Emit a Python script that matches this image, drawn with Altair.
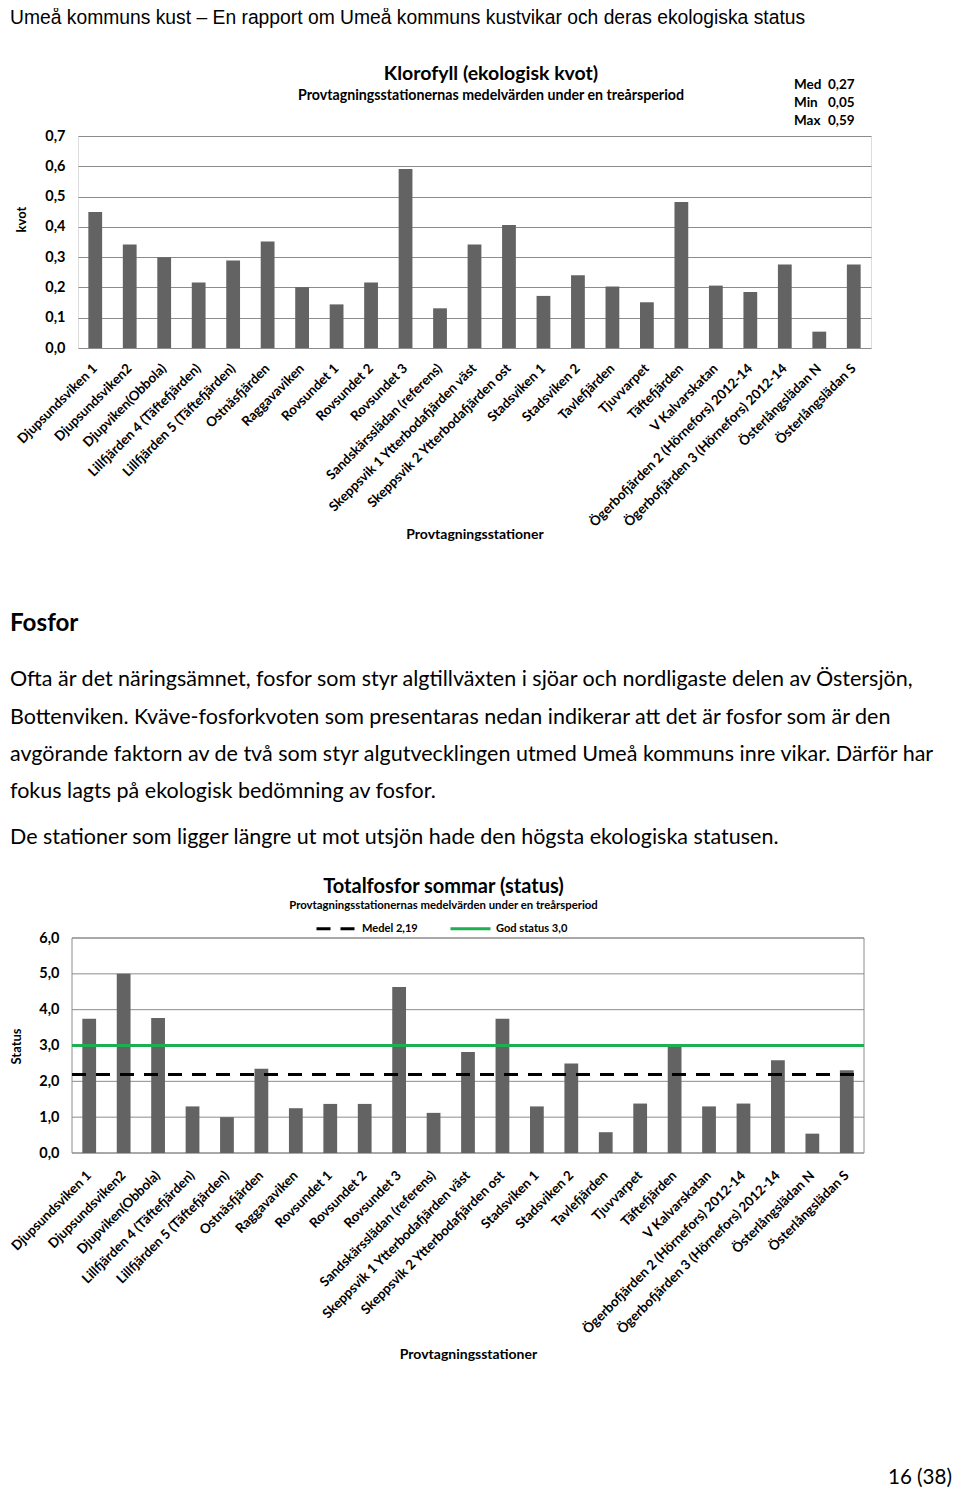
import altair as alt
import pandas as pd

# ---------------- data ----------------
stations = [
    "Djupsundsviken 1", "Djupsundsviken2", "Djupviken(Obbola)",
    "Lillfjärden 4 (Täftefjärden)", "Lillfjärden 5 (Täftefjärden)",
    "Ostnäsfjärden", "Raggavaviken", "Rovsundet 1", "Rovsundet 2",
    "Rovsundet 3", "Sandskärsslädan (referens)",
    "Skeppsvik 1 Ytterbodafjärden väst", "Skeppsvik 2 Ytterbodafjärden ost",
    "Stadsviken 1", "Stadsviken 2", "Tavlefjärden", "Tjuvvarpet",
    "Täftefjärden", "V Kalvarskatan",
    "Ögerbofjärden 2 (Hörnefors) 2012-14", "Ögerbofjärden 3 (Hörnefors) 2012-14",
    "Österlångslädan N", "Österlångslädan S",
]
klorofyll = [0.449, 0.342, 0.300, 0.216, 0.289, 0.352, 0.201, 0.144, 0.216,
             0.591, 0.131, 0.342, 0.406, 0.172, 0.240, 0.203, 0.151, 0.482,
             0.206, 0.185, 0.276, 0.054, 0.276]
fosfor = [3.75, 5.00, 3.77, 1.30, 1.00, 2.35, 1.25, 1.37, 1.37, 4.63, 1.12,
          2.82, 3.75, 1.30, 2.50, 0.58, 1.38, 3.00, 1.30, 1.38, 2.59, 0.54, 2.31]

kvot_ticks = [0.0, 0.1, 0.2, 0.3, 0.4, 0.5, 0.6, 0.7]
status_ticks = [0.0, 1.0, 2.0, 3.0, 4.0, 5.0, 6.0]

stat_names = ["Med", "Min", "Max"]
stat_values = ["0,27", "0,05", "0,59"]

ref_labels = ["Medel 2,19", "God status 3,0"]
ref_values = [2.19, 3.0]

header_text = "Umeå kommuns kust – En rapport om Umeå kommuns kustvikar och deras ekologiska status"
chart1_title = "Klorofyll (ekologisk kvot)"
chart2_title = "Totalfosfor sommar (status)"
subtitle_text = "Provtagningsstationernas medelvärden under en treårsperiod"
x_title = "Provtagningsstationer"
heading_text = "Fosfor"
paragraph_lines = [
    "Ofta är det näringsämnet, fosfor som styr algtillväxten i sjöar och nordligaste delen av Östersjön,",
    "Bottenviken. Kväve-fosforkvoten som presentaras nedan indikerar att det är fosfor som är den",
    "avgörande faktorn av de två som styr algutvecklingen utmed Umeå kommuns inre vikar. Därför har",
    "fokus lagts på ekologisk bedömning av fosfor.",
    "De stationer som ligger längre ut mot utsjön hade den högsta ekologiska statusen.",
]
page_number = "16 (38)"

# ---------------- styles ----------------
BAR = "#636363"
GRID = "#8c8c8c"
GREEN = "#1daf50"
FONT = "Lato"
comma = "replace(format(datum.value, '.1f'), '.', ',')"


def one_row(text=""):
    return pd.DataFrame({"t": [text]})


def txt(text, x, y, size, weight="normal", align="left", baseline="alphabetic",
        font=FONT):
    return alt.Chart(one_row(text)).mark_text(
        align=align, baseline=baseline, font=font, fontSize=size,
        fontWeight=weight, color="black"
    ).encode(x=alt.value(x), y=alt.value(y), text="t:N")


def x_enc(title_y, pad, scale):
    return alt.X(
        "station:N", sort=stations, scale=scale,
        axis=alt.Axis(
            title=x_title, labelAngle=-45, labelAlign="right",
            labelBaseline="middle", labelPadding=pad, labelLimit=0,
            ticks=False, domain=False, grid=False,
            labelFont=FONT, labelFontWeight="bold", labelFontSize=13.4,
            labelColor="black",
            titleFont=FONT, titleFontWeight="bold", titleFontSize=14,
            titleColor="black", titleY=title_y, titleBaseline="middle",
        ),
    )


def y_axis(title, ticks, tx, ty, grid, offset):
    return alt.Axis(
        title=title, values=ticks, labelExpr=comma, grid=grid,
        gridColor=GRID, gridWidth=1, ticks=False, domain=False, offset=offset,
        labelPadding=13, labelFont=FONT, labelFontWeight="bold",
        labelFontSize=14.5, labelColor="black",
        titleFont=FONT, titleFontWeight="bold", titleFontSize=13,
        titleColor="black", titleX=tx, titleY=ty, titleBaseline="middle",
        titleAlign="center", titleAngle=270,
    )


# ---------------- chart 1 ----------------
W1, H1 = 793, 212
df1 = pd.DataFrame({"station": stations, "v": klorofyll})
bars1 = alt.Chart(df1).mark_bar(color=BAR).encode(
    x=x_enc(186, 18, alt.Scale(paddingInner=0.6, paddingOuter=0.3)),
    y=alt.Y("v:Q", scale=alt.Scale(domain=[0, 0.7], nice=False),
            axis=y_axis("kvot", kvot_ticks, -57, 83, True, 0)),
)

layers1 = [bars1,
           txt(header_text, -68, -127, 19.3, baseline="top", font="Liberation Sans"),
           txt(chart1_title, 413, -62, 19.5, weight="bold", align="center", baseline="middle"),
           txt(subtitle_text, 413, -40, 14.2, weight="bold", align="center", baseline="middle")]
for i, (n, v) in enumerate(zip(stat_names, stat_values)):
    layers1.append(txt(n, 716, -51 + 18 * i, 13.5, weight="bold", baseline="middle"))
    layers1.append(txt(v, 750, -51 + 18 * i, 13.5, weight="bold", baseline="middle"))

chart1 = alt.layer(*layers1).properties(width=W1, height=H1)

# ---------------- chart 2 ----------------
# the group origin is shared with chart 1 (x=76); this plot starts 6px further left
L2, W2, H2 = -6, 786, 215
df2 = pd.DataFrame({"station": stations, "v": fosfor})
dfr = pd.DataFrame({"serie": ref_labels, "v": ref_values})
dft = pd.DataFrame({"v": status_ticks})

ystat = alt.Y("v:Q", scale=alt.Scale(domain=[0, 6], nice=False),
              axis=y_axis("Status", status_ticks, -56, 108, False, -L2))

grid2 = alt.Chart(dft).mark_rule(color=GRID, strokeWidth=1).encode(
    y=ystat, x=alt.value(L2), x2=alt.value(W2))
frame2 = alt.Chart(one_row()).mark_rect(fillOpacity=0, stroke=GRID, strokeWidth=1).encode(
    x=alt.value(L2), x2=alt.value(W2), y=alt.value(0), y2=alt.value(H2))

bars2 = alt.Chart(df2).mark_bar(color=BAR).encode(
    x=x_enc(201, 20, alt.Scale(paddingInner=0.6, paddingOuter=0.3, range=[L2, W2])),
    y=ystat)

leg = alt.Legend(
    orient="none", legendX=237, legendY=-31, direction="horizontal",
    title=None, symbolType="stroke", symbolSize=1600, symbolStrokeWidth=3,
    labelFont=FONT, labelFontWeight="bold", labelFontSize=11.1,
    labelColor="black", labelOffset=4, columnPadding=26,
)
rules = alt.Chart(dfr).mark_rule(strokeWidth=3).encode(
    y=ystat, x=alt.value(L2), x2=alt.value(W2),
    color=alt.Color("serie:N", scale=alt.Scale(domain=ref_labels, range=["black", GREEN]),
                    legend=leg),
    strokeDash=alt.StrokeDash("serie:N",
                              scale=alt.Scale(domain=ref_labels, range=[[14, 10], [1, 0]]),
                              legend=leg),
)

layers2 = [grid2, frame2, bars2, rules,
           txt(chart2_title, 365.5, -51, 20, weight="bold", align="center", baseline="middle"),
           txt(subtitle_text, 365.5, -32, 11.35, weight="bold", align="center", baseline="middle"),
           txt(heading_text, -68, -306.6, 24.2, weight="bold")]
para_y = [-252.3, -214.3, -177, -140, -94.3]
for line, yy in zip(paragraph_lines, para_y):
    layers2.append(txt(line, -68, yy, 21.5))
layers2.append(txt(page_number, 874, 540, 20.6, align="right", baseline="middle"))

chart2 = alt.layer(*layers2).properties(
    width=W2, height=H2, view=alt.ViewBackground(stroke=None))

chart = alt.vconcat(chart1, chart2, spacing=70).resolve_scale(
    color="independent", strokeDash="independent"
).resolve_legend(
    color="independent", strokeDash="independent"
).properties(padding=0).configure_view(stroke=GRID, strokeWidth=1).configure(
    background="white")

chart.save("out.html", embed_options={"renderer": "svg", "actions": False})
